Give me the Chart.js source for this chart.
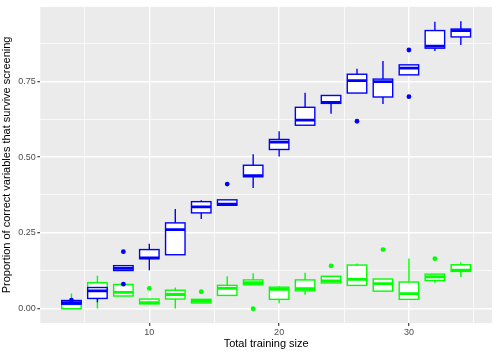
<!DOCTYPE html>
<html>
<head>
<meta charset="utf-8">
<script src="https://cdn.jsdelivr.net/npm/chart.js@4/dist/chart.umd.min.js"></script>
<style>
  html, body { margin: 0; padding: 0; background: #ffffff; }
  #wrap { width: 498px; height: 355px; position: relative; }
</style>
</head>
<body>
<div id="wrap"><canvas id="c" width="498" height="355"></canvas></div>
<script>
// ---- data ----
const sizes = [4, 6, 8, 10, 12, 14, 16, 18, 20, 22, 24, 26, 28, 30, 32, 34];

const blueLow  = [0.015, 0.021, 0.126, 0.127, 0.178, 0.296, 0.341, 0.398, 0.502, 0.605, 0.643, 0.711, 0.675, 0.771, 0.850, 0.869];
const blueQ1   = [0.015, 0.034, 0.126, 0.165, 0.178, 0.316, 0.341, 0.435, 0.525, 0.605, 0.677, 0.711, 0.698, 0.771, 0.859, 0.896];
const blueMed  = [0.020, 0.059, 0.133, 0.168, 0.261, 0.336, 0.345, 0.439, 0.549, 0.622, 0.680, 0.752, 0.749, 0.793, 0.866, 0.917];
const blueQ3   = [0.027, 0.070, 0.142, 0.195, 0.283, 0.353, 0.359, 0.473, 0.558, 0.664, 0.703, 0.773, 0.757, 0.804, 0.917, 0.922];
const blueHigh = [0.027, 0.070, 0.142, 0.214, 0.329, 0.358, 0.359, 0.509, 0.585, 0.712, 0.703, 0.791, 0.817, 0.804, 0.946, 0.948];
const blueOutX = [4, 8, 8, 16, 26, 30, 30];
const blueOutY = [0.028, 0.081, 0.188, 0.411, 0.618, 0.853, 0.699];

const greenLow  = [0.000, 0.001, 0.042, 0.016, 0.001, 0.019, 0.044, 0.079, 0.018, 0.046, 0.085, 0.077, 0.058, 0.031, 0.086, 0.105];
const greenQ1   = [0.000, 0.045, 0.042, 0.016, 0.032, 0.019, 0.044, 0.079, 0.031, 0.059, 0.085, 0.077, 0.058, 0.031, 0.093, 0.123];
const greenMed  = [0.016, 0.066, 0.054, 0.020, 0.047, 0.025, 0.067, 0.086, 0.064, 0.066, 0.092, 0.097, 0.083, 0.050, 0.105, 0.127];
const greenQ3   = [0.027, 0.086, 0.080, 0.032, 0.061, 0.031, 0.077, 0.095, 0.071, 0.095, 0.107, 0.144, 0.098, 0.088, 0.114, 0.145];
const greenHigh = [0.050, 0.109, 0.080, 0.032, 0.070, 0.031, 0.107, 0.117, 0.074, 0.119, 0.107, 0.149, 0.098, 0.166, 0.114, 0.153];
const greenOutX = [10, 14, 18, 24, 28, 32];
const greenOutY = [0.067, 0.056, 0.000, 0.141, 0.195, 0.165];

const xTickValues = [5, 10, 15, 20, 25, 30, 35];
const xTickLabels = ['', '10', '', '20', '', '30', ''];
const yTickValues = [0, 0.125, 0.25, 0.375, 0.5, 0.625, 0.75, 0.875];
const yTickLabels = ['0.00', '', '0.25', '', '0.50', '', '0.75', ''];

const BLUE = '#0000FF';
const GREEN = '#00FF00';
const BOX_HALF = 0.75;

function series(low, q1, med, q3, high, color) {
  return { low, q1, med, q3, high, color };
}
const boxSeries = [
  series(greenLow, greenQ1, greenMed, greenQ3, greenHigh, GREEN),
  series(blueLow, blueQ1, blueMed, blueQ3, blueHigh, BLUE)
];

const panelBg = {
  id: 'panelBg',
  beforeDraw(chart) {
    const { ctx, chartArea: a } = chart;
    ctx.save();
    ctx.fillStyle = '#ffffff';
    ctx.fillRect(0, 0, chart.width, chart.height);
    ctx.fillStyle = '#EBEBEB';
    ctx.fillRect(a.left, a.top, a.right - a.left, a.bottom - a.top);
    ctx.restore();
  }
};

const boxPlots = {
  id: 'boxPlots',
  beforeDatasetsDraw(chart) {
    const { ctx, chartArea: a, scales } = chart;
    const xs = scales.x, ys = scales.y;
    ctx.save();
    ctx.beginPath();
    ctx.rect(a.left, a.top, a.right - a.left, a.bottom - a.top);
    ctx.clip();
    boxSeries.forEach(s => {
      sizes.forEach((v, i) => {
        const cx = xs.getPixelForValue(v);
        const l = xs.getPixelForValue(v - BOX_HALF);
        const r = xs.getPixelForValue(v + BOX_HALF);
        const yl = ys.getPixelForValue(s.low[i]);
        const y1 = ys.getPixelForValue(s.q1[i]);
        const ym = ys.getPixelForValue(s.med[i]);
        const y3 = ys.getPixelForValue(s.q3[i]);
        const yh = ys.getPixelForValue(s.high[i]);
        ctx.strokeStyle = s.color;
        ctx.lineWidth = 1.4;
        ctx.lineCap = 'butt';
        ctx.beginPath();
        ctx.moveTo(cx, yh); ctx.lineTo(cx, y3);
        ctx.moveTo(cx, y1); ctx.lineTo(cx, yl);
        ctx.stroke();
        ctx.fillStyle = '#ffffff';
        ctx.fillRect(l, y3, r - l, y1 - y3);
        ctx.strokeRect(l, y3, r - l, y1 - y3);
        ctx.lineWidth = 2.8;
        ctx.beginPath();
        ctx.moveTo(l, ym); ctx.lineTo(r, ym);
        ctx.stroke();
      });
    });
    ctx.restore();
  }
};

function pts(xv, yv) { return xv.map((x, i) => ({ x, y: yv[i] })); }

const font = "'Liberation Sans', Arial, Helvetica, sans-serif";

new Chart(document.getElementById('c'), {
  type: 'scatter',
  data: {
    datasets: [
      { label: 'green', data: pts(greenOutX, greenOutY), backgroundColor: GREEN, borderWidth: 0, pointRadius: 2.4 },
      { label: 'blue', data: pts(blueOutX, blueOutY), backgroundColor: BLUE, borderWidth: 0, pointRadius: 2.4 }
    ]
  },
  options: {
    responsive: false,
    animation: false,
    devicePixelRatio: 1,
    layout: { padding: { top: 4, right: 6, bottom: 0, left: 0 } },
    plugins: { legend: { display: false }, tooltip: { enabled: false } },
    scales: {
      x: {
        type: 'linear', min: 1.6, max: 36.4,
        afterBuildTicks(scale) { scale.ticks = xTickValues.map(v => ({ value: v })); },
        afterFit(scale) { scale.height = 32; },
        border: { display: false },
        grid: {
          color: '#ffffff',
          lineWidth: c => (xTickLabels[xTickValues.indexOf(c.tick ? c.tick.value : -1)] ? 1.4 : 0.7),
          tickLength: 3,
          tickWidth: 1.1,
          tickColor: c => (xTickLabels[xTickValues.indexOf(c.tick ? c.tick.value : -1)] ? '#333333' : 'rgba(0,0,0,0)')
        },
        ticks: {
          autoSkip: false, maxRotation: 0, padding: 1.5,
          color: '#4D4D4D', font: { family: font, size: 9 },
          callback: (v) => { const k = xTickValues.indexOf(v); return k >= 0 ? xTickLabels[k] : ''; }
        },
        title: { display: true, text: 'Total training size', color: '#000000', font: { family: font, size: 11 }, padding: { top: 1, bottom: 4 } }
      },
      y: {
        type: 'linear', min: -0.047, max: 0.995,
        afterBuildTicks(scale) { scale.ticks = yTickValues.map(v => ({ value: v })); },
        afterFit(scale) { scale.width = 40.3; },
        border: { display: false },
        grid: {
          color: '#ffffff',
          lineWidth: c => (yTickLabels[yTickValues.indexOf(c.tick ? c.tick.value : -1)] ? 1.4 : 0.7),
          tickLength: 3,
          tickWidth: 1.1,
          tickColor: c => (yTickLabels[yTickValues.indexOf(c.tick ? c.tick.value : -1)] ? '#333333' : 'rgba(0,0,0,0)')
        },
        ticks: {
          autoSkip: false, padding: 1.5,
          color: '#4D4D4D', font: { family: font, size: 9 },
          callback: (v) => { const k = yTickValues.indexOf(v); return k >= 0 ? yTickLabels[k] : ''; }
        },
        title: { display: true, text: 'Proportion of correct variables that survive screening', color: '#000000', font: { family: font, size: 11 }, padding: { top: 0, bottom: 0 } }
      }
    }
  },
  plugins: [panelBg, boxPlots]
});
</script>
</body>
</html>
